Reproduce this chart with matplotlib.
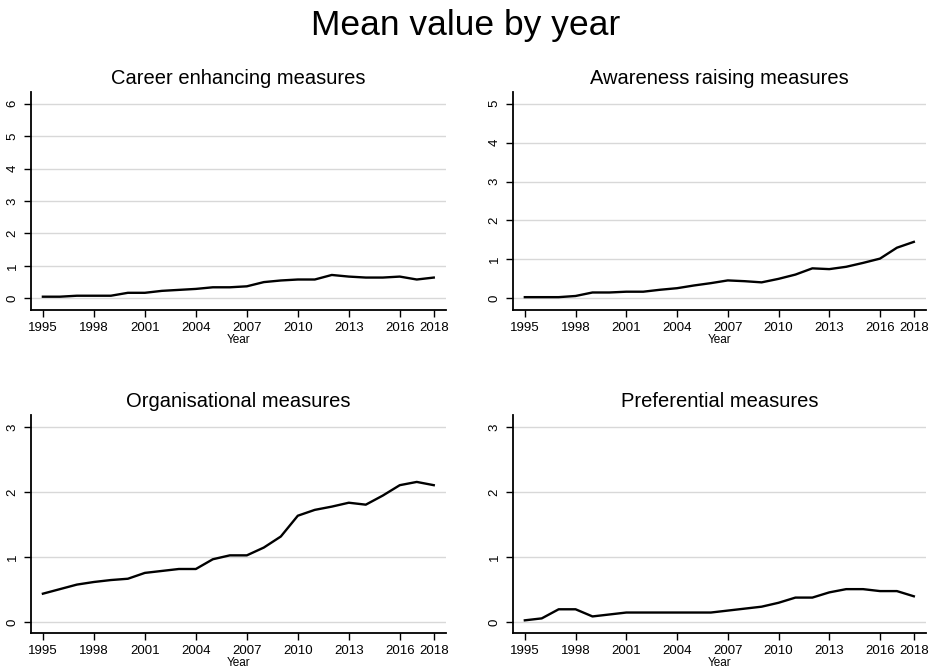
import matplotlib
matplotlib.use("Agg")
import matplotlib.pyplot as plt

plt.rcParams['font.family'] = ['Liberation Sans', 'DejaVu Sans']

years = list(range(1995, 2019))

career = [0.05, 0.05, 0.08, 0.08, 0.08, 0.17, 0.17, 0.23, 0.26, 0.29, 0.34, 0.34,
          0.37, 0.50, 0.55, 0.58, 0.58, 0.72, 0.67, 0.64, 0.64, 0.67, 0.58, 0.64]
awareness = [0.03, 0.03, 0.03, 0.06, 0.15, 0.15, 0.17, 0.17, 0.22, 0.26, 0.33, 0.39,
             0.46, 0.44, 0.41, 0.50, 0.61, 0.77, 0.75, 0.81, 0.91, 1.02, 1.30, 1.45]
organisational = [0.44, 0.51, 0.58, 0.62, 0.65, 0.67, 0.76, 0.79, 0.82, 0.82, 0.97, 1.03,
                  1.03, 1.15, 1.32, 1.64, 1.73, 1.78, 1.84, 1.81, 1.95, 2.11, 2.16, 2.11]
preferential = [0.03, 0.06, 0.20, 0.20, 0.09, 0.12, 0.15, 0.15, 0.15, 0.15, 0.15, 0.15,
                0.18, 0.21, 0.24, 0.30, 0.38, 0.38, 0.46, 0.51, 0.51, 0.48, 0.48, 0.40]

titles = ["Career enhancing measures", "Awareness raising measures",
          "Organisational measures", "Preferential measures"]
series = [career, awareness, organisational, preferential]
yticks = [list(range(0, 7)), list(range(0, 6)), list(range(0, 4)), list(range(0, 4))]
ylims = [(-0.36, 6.36), (-0.30, 5.30), (-0.165, 3.19), (-0.165, 3.19)]
xticks = [1995, 1998, 2001, 2004, 2007, 2010, 2013, 2016, 2018]

W, H = 931, 668
fig = plt.figure(figsize=(W / 100, H / 100), dpi=100)
fig.patch.set_facecolor('white')

# panel boxes in pixels: left, right, top, bottom
boxes = [(31, 446, 92, 310), (513, 926, 92, 310),
         (31, 446, 415, 633), (513, 926, 415, 633)]

for box, title, vals, yt, yl in zip(boxes, titles, series, yticks, ylims):
    l, r, t, b = box
    ax = fig.add_axes([l / W, 1 - b / H, (r - l) / W, (b - t) / H])
    ax.plot(years, vals, color='black', lw=1.7, solid_joinstyle='round')
    ax.set_xlim(1994.3, 2018.72)
    ax.set_ylim(*yl)
    ax.set_xticks(xticks)
    ax.set_yticks(yt)
    ax.set_yticklabels([str(v) for v in yt], rotation=90, va='center')
    ax.grid(axis='y', color='#d8d8d8', lw=1.0)
    ax.set_axisbelow(True)
    for s in ('top', 'right'):
        ax.spines[s].set_visible(False)
    for s in ('left', 'bottom'):
        ax.spines[s].set_linewidth(1.3)
    ax.tick_params(axis='both', direction='out', length=5, width=1.0,
                   labelsize=9.5, pad=4)
    ax.set_xlabel('Year', fontsize=8.5, labelpad=0)
    ax.set_title(title, fontsize=14.5, pad=6)

fig.text(0.5, 1 - 26 / H, 'Mean value by year', ha='center', va='center', fontsize=25.5)

fig.savefig('out.png', dpi=100, facecolor='white')
